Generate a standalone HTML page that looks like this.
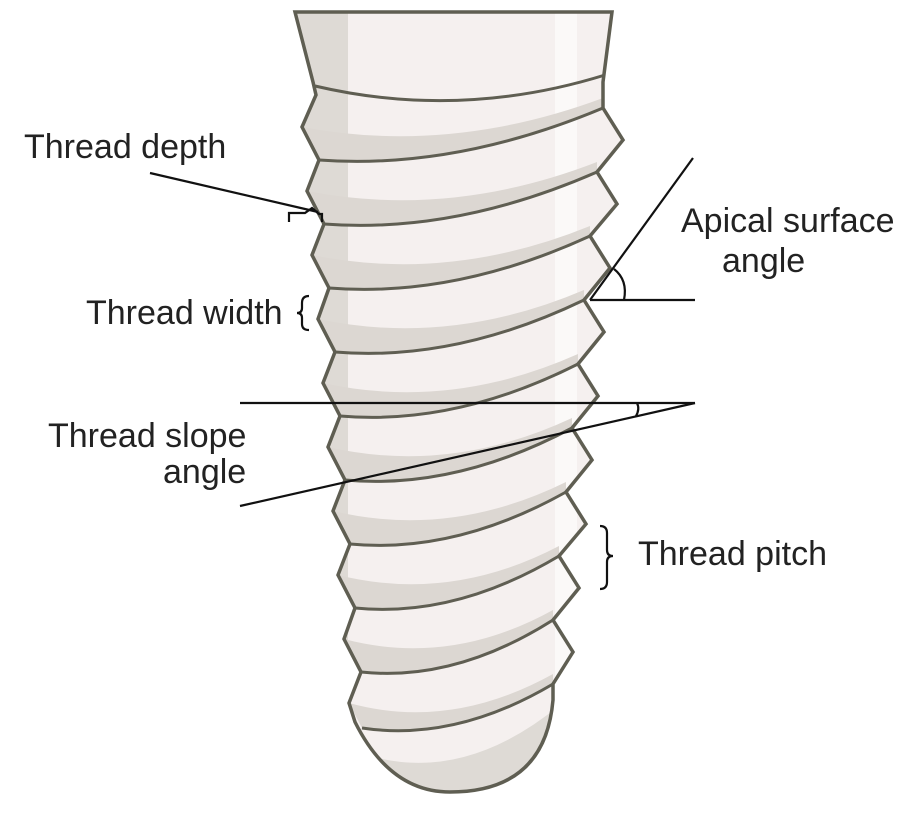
<!DOCTYPE html>
<html><head><meta charset="utf-8"><style>
html,body{margin:0;padding:0;background:#fff;}
svg{display:block;}
text{font-family:"Liberation Sans",Arial,sans-serif;font-size:34px;fill:#222;}
</style></head><body>
<svg width="913" height="818" viewBox="0 0 913 818" xmlns="http://www.w3.org/2000/svg">
<defs>
<clipPath id="body">
<path id="outline" d="M295,12 L612,12 L603,82 L603,108 L623,140 L597,172 L617,204 L590,236 L610,268 L584,300 L604,332 L578,364 L598,396 L572,428 L592,460 L566,492 L586,524 L559,556 L579,588 L553,620 L573,652 L553,684 L553,700 Q545,792 450,792 Q390,792 355,722 L349,703 L361,672 L344,639 L355,608 L338,575 L350,544 L333,511 L345,480 L328,447 L340,416 L323,383 L335,352 L318,319 L329,288 L312,255 L324,224 L307,191 L319,160 L302,127 L316,95 L313,82 Z"/>
</clipPath>
</defs>
<g clip-path="url(#body)">
<rect x="280" y="0" width="360" height="818" fill="#f5f0ef"/>
<rect x="280" y="0" width="68" height="818" fill="#dedad5"/>
<rect x="555" y="0" width="22" height="818" fill="#fbf9f8"/>
<g fill="#dcd7d2">
<path d="M302,127 L319,160 Q455,170 603,108 L603,98 Q450,155 302,127Z"/>
<path d="M307,191 L324,224 Q455,234 597,172 L597,162 Q450,219 307,191Z"/>
<path d="M312,255 L329,288 Q455,298 590,236 L590,226 Q450,283 312,255Z"/>
<path d="M318,319 L335,352 Q455,362 584,300 L584,290 Q450,347 318,319Z"/>
<path d="M323,383 L340,416 Q455,426 578,364 L578,354 Q450,411 323,383Z"/>
<path d="M328,447 L345,480 Q455,490 572,428 L572,418 Q450,475 328,447Z"/>
<path d="M333,511 L350,544 Q455,554 566,492 L566,482 Q450,539 333,511Z"/>
<path d="M338,575 L355,608 Q455,618 559,556 L559,546 Q450,603 338,575Z"/>
<path d="M344,639 L361,672 Q455,682 553,620 L553,610 Q450,667 344,639Z"/>
<path d="M349,703 L362,728 Q455,742 553,684 L553,674 Q450,731 349,703Z"/>
<path d="M340,745 Q450,795 560,705 L560,818 L340,818Z" fill="#dedad5"/>
</g>
<g fill="none" stroke="#5f5e52" stroke-width="3">
<path d="M315,86 Q460,120 605,75"/>
<path d="M319,160 Q455,170 603,108"/>
<path d="M324,224 Q455,234 597,172"/>
<path d="M329,288 Q455,298 590,236"/>
<path d="M335,352 Q455,362 584,300"/>
<path d="M340,416 Q455,426 578,364"/>
<path d="M345,480 Q455,490 572,428"/>
<path d="M350,544 Q455,554 566,492"/>
<path d="M355,608 Q455,618 559,556"/>
<path d="M361,672 Q455,682 553,620"/>
<path d="M362,728 Q455,742 553,684"/>
</g>
</g>
<use href="#outline" fill="none" stroke="#5f5e52" stroke-width="3.5"/>

<g fill="none" stroke="#111" stroke-width="2.2">
<line x1="150" y1="173" x2="318" y2="212"/>
<path d="M289,222 L289,213 L305,213 L312,208 L319,214 L322,214 L322,222"/>
<path d="M309,296 Q302,296 302,303 L302,308 Q302,313 297,313 Q302,313 302,318 L302,324 Q302,330 309,330"/>
<line x1="693" y1="158" x2="590" y2="300"/>
<line x1="590" y1="300" x2="695" y2="300"/>
<path d="M614,269 Q628,280 624,300"/>
<line x1="240" y1="403" x2="695" y2="403"/>
<line x1="240" y1="506" x2="695" y2="403"/>
<path d="M637,403 Q640,409 636,416"/>
<path d="M600,526 Q607,526 607,533 L607,550 Q607,556 613,556 Q607,556 607,562 L607,582 Q607,589 600,589"/>
</g>
<text x="24" y="158">Thread depth</text>
<text x="86" y="324">Thread width</text>
<text x="681" y="232">Apical surface</text>
<text x="722" y="272">angle</text>
<text x="48" y="447">Thread slope</text>
<text x="163" y="483">angle</text>
<text x="638" y="565">Thread pitch</text>
</svg>
</body></html>
